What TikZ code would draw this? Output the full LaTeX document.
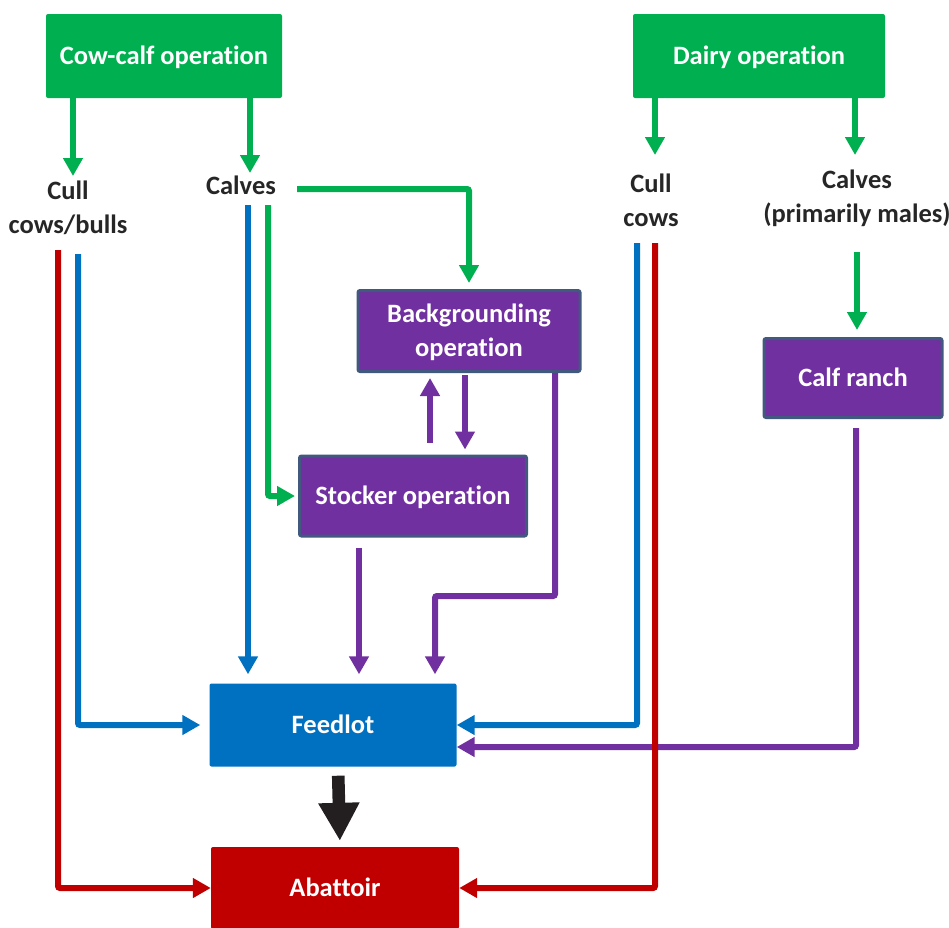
\documentclass[tikz,border=0pt]{standalone}
\usepackage{fontspec}
\setmainfont{Carlito}[Ligatures=NoCommon]
\usetikzlibrary{arrows.meta,positioning}
\definecolor{opgreen}{HTML}{00B050}
\definecolor{oppurple}{HTML}{7030A0}
\definecolor{opblue}{HTML}{0070C0}
\definecolor{opred}{HTML}{C00000}
\definecolor{opedge}{HTML}{41587F}
\definecolor{optext}{HTML}{262626}
\definecolor{opblack}{HTML}{231F20}

\begin{document}
\begin{tikzpicture}[x=1pt,y=-1pt,
  every node/.style={font=\fontsize{26.5}{34}\selectfont\bfseries},
  opbox/.style={rectangle,rounded corners=2pt,text=white,align=center,text depth=2pt},
  greenbox/.style={opbox,fill=opgreen},
  purplebox/.style={opbox,fill=oppurple,draw=opedge,line width=3pt},
  lab/.style={text=optext,align=center,inner sep=0pt},
  flow/.style={line width=6pt,rounded corners=2pt,-{Triangle[width=19pt,length=18pt]}},
  garrow/.style={flow,draw=opgreen},
  parrow/.style={flow,draw=oppurple},
  barrow/.style={flow,draw=opblue},
  rarrow/.style={flow,draw=opred}]
\useasboundingbox (0,0) rectangle (949,927);

\node[greenbox,minimum width=236pt,minimum height=84pt] (cowcalf) at (164,56) {Cow-calf operation};
\node[greenbox,minimum width=252pt,minimum height=84pt] (dairy) at (759,56) {Dairy operation};
\node[purplebox,minimum width=222pt,minimum height=81pt] (backgr) at (469,331) {Backgrounding\\operation};
\node[purplebox,minimum width=227pt,minimum height=80pt] (stocker) at (413,496) {Stocker operation};
\node[purplebox,minimum width=178pt,minimum height=79pt] (calfranch) at (853,378) {Calf ranch};
\node[opbox,fill=opblue,minimum width=247pt,minimum height=83pt] (feedlot) at (333,725) {Feedlot};
\node[opbox,fill=opred,minimum width=248pt,minimum height=82pt] (abattoir) at (335,888) {Abattoir};

\node[lab] (cullA) at (68,208) {Cull\\cows/bulls};
\node[lab] (calvesA) at (241,185) {Calves};
\node[lab] (cullB) at (651,200) {Cull\\cows};
\node[lab] (calvesB) at (857,198) {Calves\\(primarily males)};

\coordinate (cullAin) at (73,176);
\coordinate (calvesAin) at (250,173);
\coordinate (cullBin) at (655,155);
\coordinate (calvesBin) at (855,155);
\coordinate (calvesAg) at (297,189);
\coordinate (calvesAs) at (268,205);
\coordinate (calvesAb) at (248,205);
\coordinate (cullAr) at (58,250);
\coordinate (cullAb) at (78,254);
\coordinate (cullBb) at (637,243);
\coordinate (cullBr) at (655,243);
\coordinate (calvesBout) at (857,252);
\coordinate (bgturn) at (435,596);

\draw[garrow] (cowcalf.south -| cullAin) -- (cullAin);
\draw[garrow] (cowcalf.south -| calvesAin) -- (calvesAin);
\draw[garrow] (dairy.south -| cullBin) -- (cullBin);
\draw[garrow] (dairy.south -| calvesBin) -- (calvesBin);
\draw[garrow,shorten >=6pt] (calvesAg) -| (backgr.north);
\draw[garrow,shorten >=3pt] (calvesAs) |- (stocker.west);
\draw[barrow,shorten >=9pt] (calvesAb) -- (calvesAb |- feedlot.north);
\draw[barrow,shorten >=9pt] (cullAb) |- (feedlot.west);
\draw[garrow,shorten >=7pt] (calvesBout) -- (calvesBout |- calfranch.north);

\draw[parrow,shorten <=12pt,shorten >=5pt] ([xshift=17pt]stocker.north) -- ([xshift=17pt]stocker.north |- backgr.south);
\draw[parrow,shorten <=2pt,shorten >=5pt] ([xshift=-4pt]backgr.south) -- ([xshift=-4pt]backgr.south |- stocker.north);
\draw[parrow,shorten >=9pt] ([xshift=86pt]backgr.south) |- (bgturn) -- (bgturn |- feedlot.north);
\draw[parrow,shorten <=10pt,shorten >=9pt] ([xshift=-54pt]stocker.south) -- ([xshift=-54pt]stocker.south |- feedlot.north);
\draw[parrow,shorten <=9pt] ([xshift=3pt]calfranch.south) |- ([yshift=-22pt]feedlot.east);

\draw[barrow] (cullBb) |- (feedlot.east);
\draw[rarrow] (cullBr) |- (abattoir.east);
\draw[rarrow] (cullAr) |- (abattoir.west);

\draw[draw=opblack,line width=12.6pt,-{Triangle[width=38.7pt,length=38pt]},shorten <=9pt,shorten >=6pt] ([xshift=5pt]feedlot.south) -- ([xshift=5pt]abattoir.north);
\end{tikzpicture}
\end{document}
